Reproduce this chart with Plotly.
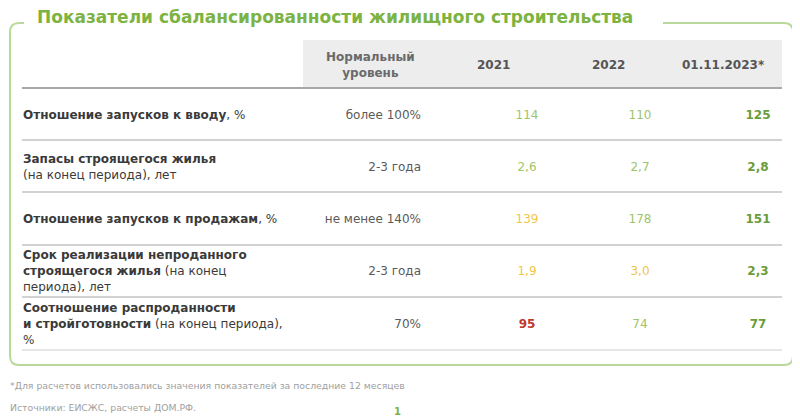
import plotly.graph_objects as go

# --- data ---
title = "Показатели сбалансированности жилищного строительства"
header_norm = "Нормальный<br>уровень"
years = ["2021", "2022", "01.11.2023*"]

labels = [
    "<b>Отношение запусков к вводу</b>, %",
    "<b>Запасы строящегося жилья</b><br>(на конец периода), лет",
    "<b>Отношение запусков к продажам</b>, %",
    "<b>Срок реализации непроданного</b><br><b>строящегося жилья</b> (на конец<br>периода), лет",
    "<b>Соотношение распроданности</b><br><b>и стройготовности</b> (на конец периода),<br>%",
]
norms = ["более 100%", "2-3 года", "не менее 140%", "2-3 года", "70%"]
v2021 = [114, 2.6, 139, 1.9, 95]
v2022 = [110, 2.7, 178, 3.0, 74]
v2023 = [125, 2.8, 151, 2.3, 77]
decimals = [0, 1, 0, 1, 0]

footnote = "*Для расчетов использовались значения показателей за последние 12 месяцев"
sources = "Источники: ЕИСЖС, расчеты ДОМ.РФ."
page_no = "1"

# --- styles / layout ---
GREEN = "#7cb342"
LGREEN = "#9dc56a"
DGREEN = "#6a9c3a"
YELLOW = "#efc64a"
RED = "#c0392b"
FRAME = "#b9d99a"
FONT = "DejaVu Sans"

c2021 = [LGREEN, LGREEN, YELLOW, YELLOW, RED]
c2022 = [LGREEN, LGREEN, LGREEN, YELLOW, LGREEN]
c2023 = [DGREEN] * 5
bold2021 = [False, False, False, False, True]

row_y = [116, 168, 220, 272, 325]
label_y = [116, 168, 220, 272, 325]
sep_y = [88, 140, 192, 245, 297, 350]
col_x = [527, 640, 758]
norm_x = 421
label_x = 23

# page body has an 8px margin, so the figure starts at (8, 8)
OFF = 8


def fmt(v, d, bold=False):
    s = f"{v:.{d}f}".replace(".", ",")
    return f"<b>{s}</b>" if bold else s


fig = go.Figure()

# row labels
fig.add_trace(go.Scatter(
    x=[label_x] * len(labels), y=label_y, text=labels, mode="text",
    textposition="middle right",
    textfont=dict(family=FONT, size=12, color="#3a3a3a"),
    hoverinfo="skip"))

# normal level
fig.add_trace(go.Scatter(
    x=[norm_x] * len(norms), y=row_y, text=norms, mode="text",
    textposition="middle left",
    textfont=dict(family=FONT, size=12, color="#5a5a5a"),
    hoverinfo="skip"))

# year columns
for x, vals, cols, bolds in [
    (col_x[0], v2021, c2021, bold2021),
    (col_x[1], v2022, c2022, [False] * 5),
    (col_x[2], v2023, c2023, [True] * 5),
]:
    fig.add_trace(go.Scatter(
        x=[x] * len(vals), y=row_y,
        text=[fmt(v, d, b) for v, d, b in zip(vals, decimals, bolds)],
        mode="text", textposition="middle center",
        textfont=dict(family=FONT, size=12, color=cols),
        hoverinfo="skip"))

shapes = []
# frame with gap for the title
r = 9
path = (f"M 24,23 L {10 + r},23 Q 10,23 10,{23 + r} L 10,{365 - r} Q 10,365 {10 + r},365 "
        f"L {793 - r},365 Q 793,365 793,{365 - r} L 793,{23 + r} Q 793,23 {793 - r},23 L 663,23")
shapes.append(dict(type="path", path=path, line=dict(color=FRAME, width=2), layer="below"))
# header band
shapes.append(dict(type="rect", x0=303, x1=782, y0=40, y1=88,
                   fillcolor="#ededed", line=dict(width=0), layer="below"))
# separators
for i, y in enumerate(sep_y):
    col = "#a8a8a8" if i == 0 else ("#e6e6e6" if i == len(sep_y) - 1 else "#d2d2d2")
    shapes.append(dict(type="line", x0=22, x1=782, y0=y, y1=y,
                       line=dict(color=col, width=2), layer="below"))
# red stray mark at right edge
shapes.append(dict(type="line", x0=793, x1=800, y0=68, y1=78,
                   line=dict(color="#d9735f", width=2)))

ann = []
ann.append(dict(x=35, y=17, text=f"<b>{title}</b>", showarrow=False, xanchor="left",
                yanchor="middle", font=dict(family=FONT, size=17, color=GREEN)))
ann.append(dict(x=370, y=65, text=f"<b>{header_norm}</b>", showarrow=False,
                xanchor="center", yanchor="middle",
                font=dict(family=FONT, size=12, color="#6a6a6a")))
for x, yr in zip([493, 608, 723], years):
    ann.append(dict(x=x, y=65, text=f"<b>{yr}</b>", showarrow=False,
                    xanchor="center", yanchor="middle",
                    font=dict(family=FONT, size=12, color="#555555")))
ann.append(dict(x=8, y=385, text=footnote, showarrow=False, xanchor="left", yanchor="middle",
                font=dict(family=FONT, size=9.3, color="#a0a0a0")))
ann.append(dict(x=8, y=407, text=sources, showarrow=False, xanchor="left", yanchor="middle",
                font=dict(family=FONT, size=9.3, color="#a0a0a0")))
ann.append(dict(x=397, y=411, text=f"<b>{page_no}</b>", showarrow=False, xanchor="center",
                yanchor="middle", font=dict(family=FONT, size=10, color=GREEN)))

fig.update_layout(
    width=800 - OFF, height=420 - OFF,
    margin=dict(l=0, r=0, t=0, b=0),
    paper_bgcolor="white", plot_bgcolor="white",
    showlegend=False,
    xaxis=dict(range=[OFF, 800], visible=False, fixedrange=True),
    yaxis=dict(range=[420, OFF], visible=False, fixedrange=True),
    shapes=shapes, annotations=ann,
)

fig.write_html("out.html")
